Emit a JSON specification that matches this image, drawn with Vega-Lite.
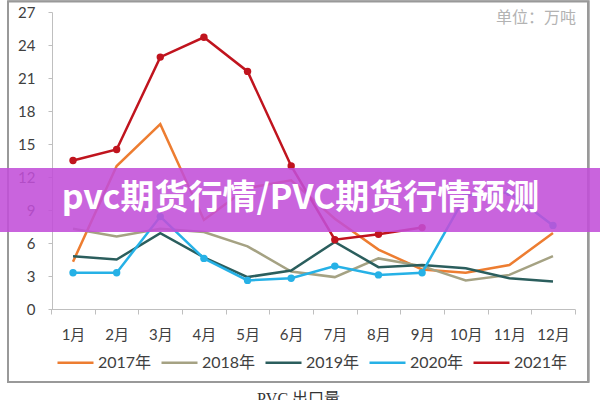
{
  "$schema": "https://vega.github.io/schema/vega-lite/v6.json",
  "width": 581,
  "height": 381,
  "autosize": {"type": "none"},
  "padding": {"left": 8, "top": 1, "right": 11, "bottom": 18},
  "background": "white",
  "title": {"text": "PVC 出口量", "orient": "bottom", "anchor": "middle", "frame": "group", "offset": 8, "fontSize": 16, "font": "Liberation Serif, Noto Sans CJK SC", "fontWeight": "normal", "color": "#333333"},
  "datasets": {
    "pvc": [
      {"month": "1月", "year": "2017年", "value": 4.3}, {"month": "2月", "year": "2017年", "value": 13.0}, {"month": "3月", "year": "2017年", "value": 16.8}, {"month": "4月", "year": "2017年", "value": 8.1}, {"month": "5月", "year": "2017年", "value": 11.0}, {"month": "6月", "year": "2017年", "value": 11.7}, {"month": "7月", "year": "2017年", "value": 8.2}, {"month": "8月", "year": "2017年", "value": 5.4}, {"month": "9月", "year": "2017年", "value": 3.6}, {"month": "10月", "year": "2017年", "value": 3.3}, {"month": "11月", "year": "2017年", "value": 4.0}, {"month": "12月", "year": "2017年", "value": 6.9},
      {"month": "1月", "year": "2018年", "value": 7.3}, {"month": "2月", "year": "2018年", "value": 6.6}, {"month": "3月", "year": "2018年", "value": 7.3}, {"month": "4月", "year": "2018年", "value": 7.0}, {"month": "5月", "year": "2018年", "value": 5.7}, {"month": "6月", "year": "2018年", "value": 3.4}, {"month": "7月", "year": "2018年", "value": 2.9}, {"month": "8月", "year": "2018年", "value": 4.6}, {"month": "9月", "year": "2018年", "value": 3.9}, {"month": "10月", "year": "2018年", "value": 2.6}, {"month": "11月", "year": "2018年", "value": 3.1}, {"month": "12月", "year": "2018年", "value": 4.8},
      {"month": "1月", "year": "2019年", "value": 4.8}, {"month": "2月", "year": "2019年", "value": 4.5}, {"month": "3月", "year": "2019年", "value": 6.9}, {"month": "4月", "year": "2019年", "value": 4.7}, {"month": "5月", "year": "2019年", "value": 2.9}, {"month": "6月", "year": "2019年", "value": 3.5}, {"month": "7月", "year": "2019年", "value": 6.1}, {"month": "8月", "year": "2019年", "value": 3.8}, {"month": "9月", "year": "2019年", "value": 4.0}, {"month": "10月", "year": "2019年", "value": 3.7}, {"month": "11月", "year": "2019年", "value": 2.8}, {"month": "12月", "year": "2019年", "value": 2.5},
      {"month": "1月", "year": "2020年", "value": 3.3}, {"month": "2月", "year": "2020年", "value": 3.3}, {"month": "3月", "year": "2020年", "value": 8.4}, {"month": "4月", "year": "2020年", "value": 4.6}, {"month": "5月", "year": "2020年", "value": 2.6}, {"month": "6月", "year": "2020年", "value": 2.8}, {"month": "7月", "year": "2020年", "value": 3.9}, {"month": "8月", "year": "2020年", "value": 3.1}, {"month": "9月", "year": "2020年", "value": 3.3}, {"month": "10月", "year": "2020年", "value": 10.3}, {"month": "11月", "year": "2020年", "value": 10.6}, {"month": "12月", "year": "2020年", "value": 7.6},
      {"month": "1月", "year": "2021年", "value": 13.5}, {"month": "2月", "year": "2021年", "value": 14.5}, {"month": "3月", "year": "2021年", "value": 22.9}, {"month": "4月", "year": "2021年", "value": 24.7}, {"month": "5月", "year": "2021年", "value": 21.6}, {"month": "6月", "year": "2021年", "value": 13.0}, {"month": "7月", "year": "2021年", "value": 6.3}, {"month": "8月", "year": "2021年", "value": 6.8}, {"month": "9月", "year": "2021年", "value": 7.4}
    ]
  },
  "layer": [
    {
      "data": {"values": [{"frame": "frame"}]},
      "mark": {"type": "rect", "fill": null, "fillOpacity": 0, "stroke": "#999999", "strokeWidth": 2},
      "encoding": {"x": {"value": 0}, "x2": {"value": 580}, "y": {"value": 0.5}, "y2": {"value": 381}}
    },
    {
      "data": {"name": "pvc"},
      "mark": {"type": "line", "strokeWidth": 2.5},
      "encoding": {
        "x": {
          "field": "month", "type": "ordinal", "bandPosition": 0.5,
          "sort": ["1月", "2月", "3月", "4月", "5月", "6月", "7月", "8月", "9月", "10月", "11月", "12月"],
          "scale": {"type": "band", "range": [43.2, 566.8], "paddingInner": 0, "paddingOuter": 0},
          "axis": {"title": null, "offset": -73, "tickBand": "extent", "tickSize": 5, "labelPadding": 13, "labelAngle": 0, "domainColor": "#bfbfbf", "tickColor": "#bfbfbf", "labelFontSize": 15, "labelFont": "Lato, Noto Sans CJK SC", "labelColor": "#404040", "grid": false}
        },
        "y": {
          "field": "value", "type": "quantitative",
          "scale": {"domain": [0, 27], "range": [308, 11], "nice": false, "zero": true},
          "axis": {"title": null, "offset": -44, "values": [0, 3, 6, 9, 12, 15, 18, 21, 24, 27], "tickSize": 4, "labelPadding": 13, "domainColor": "#bfbfbf", "tickColor": "#bfbfbf", "labelFontSize": 15, "labelFont": "Lato, Noto Sans CJK SC", "labelColor": "#404040", "grid": false}
        },
        "color": {
          "field": "year", "type": "nominal",
          "scale": {"domain": ["2017年", "2018年", "2019年", "2020年", "2021年"], "range": ["#ed7d31", "#a5a283", "#2b5e5d", "#26b1e6", "#c0141e"]},
          "legend": {"title": null, "orient": "none", "legendX": 48, "legendY": 342, "direction": "horizontal", "columns": 5, "columnPadding": 4, "symbolType": "stroke", "symbolSize": 1296, "symbolStrokeWidth": 2.5, "labelFontSize": 16, "labelFont": "Lato, Noto Sans CJK SC", "labelColor": "#404040", "labelOffset": 3, "padding": 0}
        }
      }
    },
    {
      "data": {"name": "pvc"},
      "transform": [{"filter": "datum.year == '2020年' || datum.year == '2021年'"}],
      "mark": {"type": "point", "filled": true, "size": 55, "opacity": 1},
      "encoding": {
        "x": {"field": "month", "type": "ordinal", "bandPosition": 0.5, "sort": ["1月", "2月", "3月", "4月", "5月", "6月", "7月", "8月", "9月", "10月", "11月", "12月"]},
        "y": {"field": "value", "type": "quantitative"},
        "color": {"field": "year", "type": "nominal", "legend": null}
      }
    },
    {
      "data": {"values": [{"top": 12.82, "bottom": 7.0}]},
      "mark": {"type": "rect", "color": "#c14fd8", "opacity": 0.88},
      "encoding": {"x": {"value": -8}, "x2": {"value": 592}, "y": {"field": "top", "type": "quantitative"}, "y2": {"field": "bottom"}}
    },
    {
      "data": {"values": [{"label": "pvc期货行情/PVC期货行情预测", "v": 10.0}]},
      "mark": {"type": "text", "font": "Noto Sans CJK SC", "fontWeight": "bold", "fontSize": 34, "color": "white", "align": "center", "baseline": "middle"},
      "encoding": {"x": {"value": 292.5}, "y": {"field": "v", "type": "quantitative"}, "text": {"field": "label"}}
    },
    {
      "data": {"values": [{"label": "单位：万吨", "v": 26.45}]},
      "mark": {"type": "text", "font": "Noto Sans CJK SC", "fontSize": 16, "color": "#b3b3b3", "align": "right", "baseline": "middle"},
      "encoding": {"x": {"value": 568}, "y": {"field": "v", "type": "quantitative"}, "text": {"field": "label"}}
    }
  ],
  "config": {"view": {"stroke": "#a0a0a0", "strokeWidth": 1.5}}
}
